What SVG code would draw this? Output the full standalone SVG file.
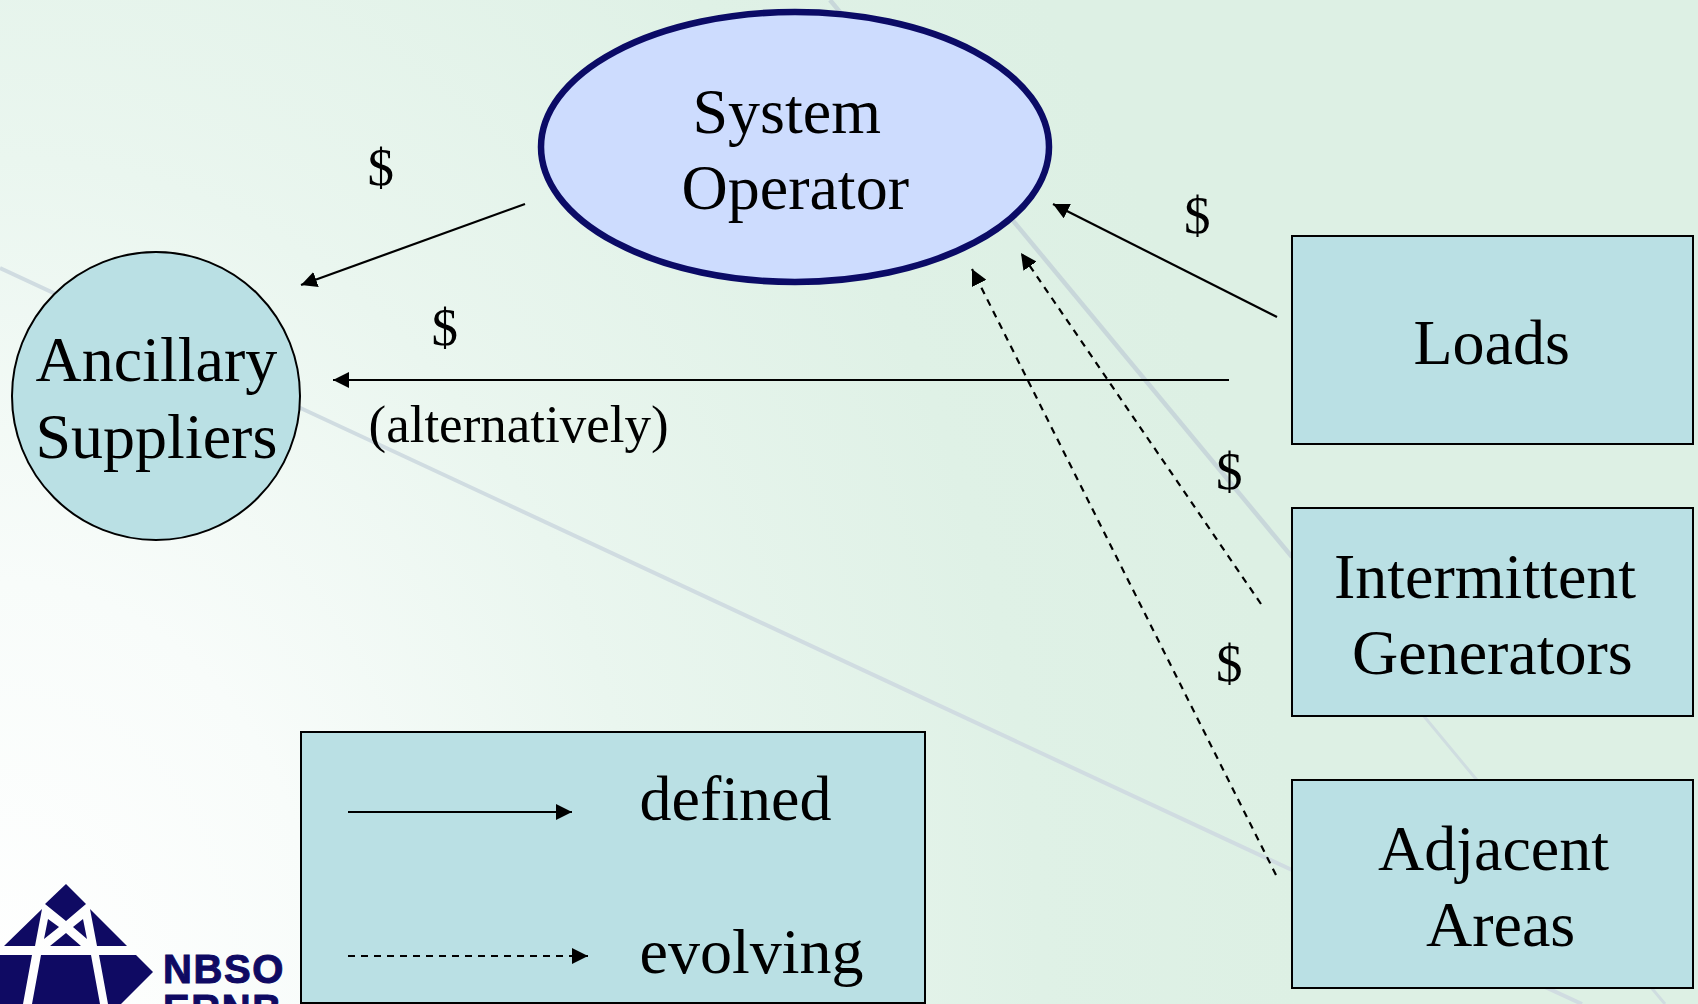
<svg xmlns="http://www.w3.org/2000/svg" width="1698" height="1004" viewBox="0 0 1698 1004">
<style>
.t{font-family:"Liberation Serif","Times New Roman",serif;font-size:64px;fill:#000}
.s{font-family:"Liberation Serif","Times New Roman",serif;font-size:53px;fill:#000}
.n{fill:#bae0e4;stroke:#000;stroke-width:2}
.c{fill:none;stroke:#000;stroke-width:2.2}
.d{stroke-dasharray:7 6}
.l{fill:#0f0a63}
.w{font-family:"Liberation Sans",Arial,sans-serif;font-weight:700;font-size:40px;letter-spacing:1.6px;fill:#0f0a63;stroke:#0f0a63;stroke-width:1}
</style>
<defs>
<radialGradient id="bg" gradientUnits="userSpaceOnUse" cx="0" cy="1004" r="1300" gradientTransform="translate(0 1004) scale(1 1.3) translate(0 -1004)">
<stop offset="0" stop-color="#ffffff"/><stop offset="0.25" stop-color="#f8fcfa"/><stop offset="0.5" stop-color="#eaf6ef"/><stop offset="0.8" stop-color="#dff1e6"/><stop offset="1" stop-color="#ddf0e4"/>
</radialGradient>
<marker id="A" viewBox="0 0 10 10" refX="10" refY="5" markerWidth="16" markerHeight="16" markerUnits="userSpaceOnUse" preserveAspectRatio="none" orient="auto"><path d="M0 0L10 5L0 10z" fill="#000"/></marker>
</defs>
<rect width="1698" height="1004" fill="url(#bg)"/>
<g id="background-lines" fill="none">
<path stroke="#d0dce1" stroke-width="4" d="M0 268L1292 870L1582 1004"/>
<path stroke="#c8d7da" stroke-width="4.5" d="M830 0L1292 557"/>
<path stroke="#cfdde0" stroke-width="3" d="M1292 557L1476 779L1665 1004"/>
</g>
<g id="connectors">
<path class="c" d="M525 204L301 285" marker-end="url(#A)"/>
<path class="c" d="M1229 380L333 380" marker-end="url(#A)"/>
<path class="c" d="M1277 317L1053 204" marker-end="url(#A)"/>
<path class="c d" d="M1261 604L1021 253" marker-end="url(#A)"/>
<path class="c d" d="M1276 875L972 269" marker-end="url(#A)"/>
</g>
<g id="system-operator"><ellipse cx="795" cy="147" rx="254" ry="135" fill="#cddcfe" stroke="#0b0b66" stroke-width="6.5"/>
<text class="t" x="692.500" y="133">System</text><text class="t" x="681.500" y="209">Operator</text></g>
<g id="ancillary-suppliers"><circle class="n" cx="156" cy="396" r="144"/>
<text class="t" x="35.500" y="381">Ancillary</text><text class="t" x="35.500" y="458">Suppliers</text></g>
<g id="loads"><rect class="n" x="1292" y="236" width="401" height="208"/><text class="t" x="1413.500" y="364">Loads</text></g>
<g id="intermittent-generators"><rect class="n" x="1292" y="508" width="401" height="208"/>
<text class="t" x="1334" y="598">Intermittent</text><text class="t" x="1352" y="674">Generators</text></g>
<g id="adjacent-areas"><rect class="n" x="1292" y="780" width="401" height="208"/>
<text class="t" x="1378" y="870">Adjacent</text><text class="t" x="1426" y="946">Areas</text></g>
<g id="labels">
<text class="s" x="367.500" y="185">$</text><text class="s" x="431.500" y="345">$</text>
<text class="s" x="1184" y="233">$</text><text class="s" x="1216" y="489">$</text><text class="s" x="1216" y="681">$</text>
<text class="s" x="368.500" y="442">(alternatively)</text>
</g>
<g id="legend"><rect class="n" x="301" y="732" width="624" height="271"/>
<path class="c" d="M348 812L572 812" marker-end="url(#A)"/>
<path class="c d" d="M348 956L588 956" marker-end="url(#A)"/>
<text class="t" x="639.500" y="820">defined</text><text class="t" x="639.500" y="973">evolving</text></g>
<g id="logo">
<path class="l" d="M66 884L86 904L66 921L45 904zM42 909L35 946L4 946zM90 909L127 946L97 946zM48 919L59 927L44 939zM83 919L73 927L87 939zM66 933L81 946L50 946zM0 955L32 955L23 1004L0 1004zM41 955L91 955L100 1004L32 1004zM99 955L136 955L153 972L121 1004L108 1004z"/>
<text class="w" x="163" y="983">NBSO</text>
<text class="w" x="163" y="1023">ERNB</text>
</g>
</svg>
